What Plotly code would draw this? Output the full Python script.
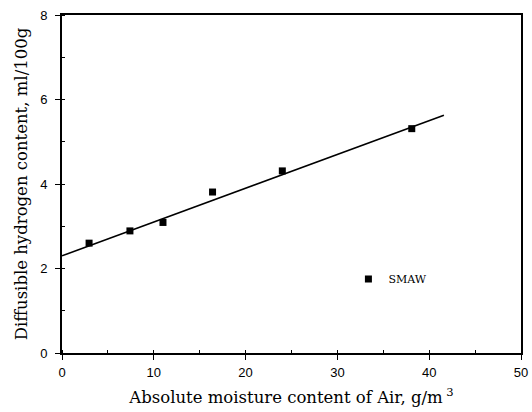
import plotly.graph_objects as go

# Data
moisture = [2.95, 7.4, 11.0, 16.4, 24.0, 38.1]
hydrogen = [2.60, 2.89, 3.09, 3.81, 4.31, 5.31]
fit_x = [0.0, 41.6]
fit_y = [2.3, 5.63]

x_ticks = [0, 10, 20, 30, 40, 50]
y_ticks = [0, 2, 4, 6, 8]

serif = "DejaVu Serif, serif"
sans = "Liberation Sans, Arial, sans-serif"

fig = go.Figure()
fig.add_trace(go.Scatter(
    x=fit_x, y=fit_y, mode="lines",
    line=dict(color="black", width=1.6),
    showlegend=False, hoverinfo="skip",
))
fig.add_trace(go.Scatter(
    x=moisture, y=hydrogen, mode="markers", name="SMAW",
    marker=dict(symbol="square", size=7, color="black"),
))

fig.update_layout(
    width=532, height=412,
    margin=dict(l=62, r=11, t=15, b=59),
    paper_bgcolor="white", plot_bgcolor="white",
    font=dict(family=serif, color="black"),
    legend=dict(
        x=0.624, y=0.219, xanchor="left", yanchor="middle",
        bgcolor="rgba(0,0,0,0)", font=dict(family=serif, size=11),
        itemwidth=30,
    ),
)
fig.update_xaxes(
    range=[0, 50], tickvals=x_ticks, ticktext=[str(v) for v in x_ticks],
    showgrid=False, zeroline=False, automargin=False,
    showline=True, linecolor="black", linewidth=1.5, mirror=True,
    ticks="outside", ticklen=5, tickcolor="black",
    ticklabelstandoff=2,
    minor=dict(dtick=5, ticks="inside", ticklen=3, tickcolor="black"),
    tickfont=dict(family=sans, size=13),
    title=dict(text="Absolute moisture content of Air, g/m<sup> 3</sup>",
               font=dict(family=serif, size=16.5), standoff=12),
)
fig.update_yaxes(
    range=[0, 8], tickvals=y_ticks, ticktext=[str(v) for v in y_ticks],
    showgrid=False, zeroline=False, automargin=False,
    showline=True, linecolor="black", linewidth=2, mirror=True,
    ticks="outside", ticklen=5, tickcolor="black",
    ticklabelstandoff=5,
    minor=dict(dtick=1, ticks="inside", ticklen=3, tickcolor="black"),
    tickfont=dict(family=sans, size=13),
    title=dict(text="Diffusible hydrogen content, ml/100g",
               font=dict(family=serif, size=16.5), standoff=8),
)

fig.write_html("out.html")
